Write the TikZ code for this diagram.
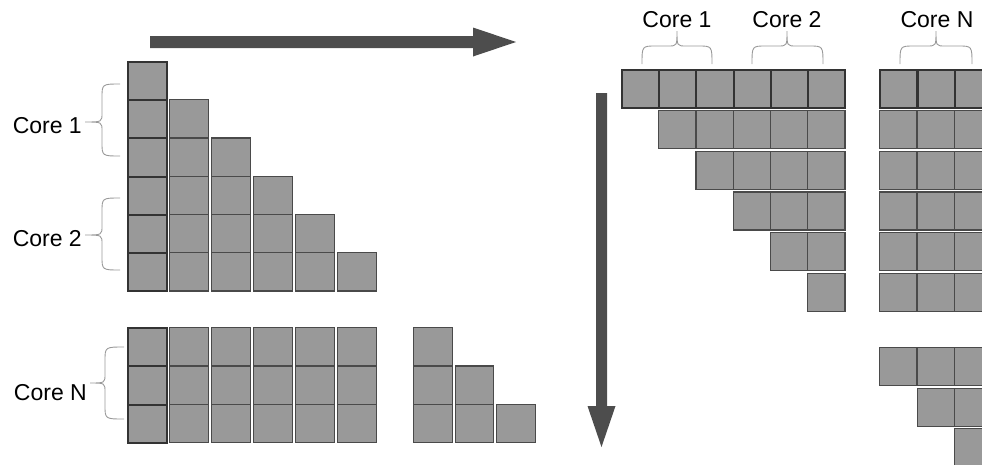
\documentclass[tikz,border=0pt]{standalone}
\usepackage{fontspec}
\setmainfont{Liberation Sans}
\definecolor{cellfill}{HTML}{999999}
\definecolor{cellline}{HTML}{4A4A4A}
\definecolor{celldark}{HTML}{333333}
\definecolor{bracec}{HTML}{999999}
\definecolor{arrowc}{HTML}{4D4D4D}
\newcommand\brL[6]{% xr, xv, xt, ytop, ytip, ybot
  \draw[brace] (#1,#4) .. controls (#2,#4) and (#2,#4) .. (#2,#4+14) -- (#2,#5-9)
    .. controls (#2,#5) and (#2,#5) .. (#3,#5) .. controls (#2,#5) and (#2,#5) .. (#2,#5+9)
    -- (#2,#6-14) .. controls (#2,#6) and (#2,#6) .. (#1,#6);}
\newcommand\brT[6]{% xl, xm, xr, ybot, yh, ytip
  \draw[brace] (#1,#4) .. controls (#1,#5) and (#1,#5) .. (#1+14,#5) -- (#2-9,#5)
    .. controls (#2,#5) and (#2,#5) .. (#2,#6) .. controls (#2,#5) and (#2,#5) .. (#2+9,#5)
    -- (#3-14,#5) .. controls (#3,#5) and (#3,#5) .. (#3,#4);}
\begin{document}
\begin{tikzpicture}[x=1pt,y=-1pt,
  cell/.style={draw=cellline, fill=cellfill, line width=1.2pt, inner sep=0pt,
    anchor=north west, minimum width=38.5pt, minimum height=38.3pt},
  cellfirst/.style={cell, draw=celldark, line width=2pt},
  rcell/.style={cell, minimum width=37.3pt, minimum height=38pt},
  rcelltop/.style={rcell, draw=celldark, line width=2pt},
  brace/.style={draw=bracec, line width=0.9pt},
  lab/.style={font=\fontsize{23}{27}\selectfont, text=black, inner sep=0pt}]
\useasboundingbox (0,0) rectangle (982,464);
\clip (0,0) rectangle (982,464);

% ---------- left triangle (Core 1, Core 2) ----------
\foreach \c in {1,...,5}{
  \foreach \r in {\c,...,5}{
    \node[cell] (L\c-\r) at ({127+42*\c},{61+38.2*\r}) {};
  }
}
\foreach \r in {0,...,5}{
  \node[cellfirst] (L0-\r) at (127,{61+38.2*\r}) {};
}

% ---------- left bottom block (Core N) ----------
\foreach \c in {1,...,5}{
  \foreach \r in {0,1,2}{
    \node[cell] (B\c-\r) at ({127+42*\c},{327+38.3*\r}) {};
  }
}
\foreach \r in {0,1,2}{
  \node[cellfirst] (B0-\r) at (127,{327+38.3*\r}) {};
}
\foreach \k in {0,1,2}{
  \foreach \r in {\k,...,2}{
    \node[cell] (T\k-\r) at ({413+41.5*\k},{327+38.3*\r}) {};
  }
}

% ---------- right upper triangle ----------
\foreach \r in {1,...,5}{
  \foreach \c in {\r,...,5}{
    \node[rcell] (R\c-\r) at ({621+37.2*\c},{69+40.8*\r}) {};
  }
}
\foreach \c in {0,...,5}{
  \node[rcelltop] (R\c-0) at ({621+37.2*\c},69) {};
}

% ---------- right Core N block ----------
\foreach \r in {1,...,5}{
  \foreach \c in {0,1,2}{
    \node[rcell] (N\c-\r) at ({879+37.5*\c},{69+40.8*\r}) {};
  }
}
\foreach \c in {0,1,2}{
  \node[rcelltop] (N\c-0) at ({879+37.5*\c},69) {};
}
\foreach \r in {0,1,2}{
  \foreach \c in {\r,...,2}{
    \node[rcell] (M\c-\r) at ({879+37.5*\c},{347+40.5*\r}) {};
  }
}

% ---------- braces and labels ----------
\brL{120}{102}{85}{84}{122}{156}
\brL{120}{102}{85}{198}{235}{270}
\brL{124}{105}{90}{347}{383}{419}
\node[lab, anchor=base east] (lc1) at (82,133) {Core 1};
\node[lab, anchor=base east] (lc2) at (82,246) {Core 2};
\node[lab, anchor=base east] (lcn) at (87,400) {Core N};

\brT{642}{677}{712}{64}{46}{31}
\brT{752}{787}{823}{64}{46}{31}
\brT{900}{936}{972}{64}{46}{31}
\node[lab, anchor=base] (tc1) at (677,27) {Core 1};
\node[lab, anchor=base] (tc2) at (787,27) {Core 2};
\node[lab, anchor=base] (tcn) at (937,27) {Core N};

% ---------- arrows ----------
\coordinate (hs1) at (150,36);
\coordinate (hs2) at (150,48);
\coordinate (ht) at (516,42);
\fill[arrowc] (hs1) -- (473,36) -- (473,27.5) -- (ht) -- (473,56.5) -- (473,48) -- (hs2) -- cycle;
\coordinate (vs1) at (596,93);
\coordinate (vs2) at (607,93);
\coordinate (vt) at (601.5,447);
\fill[arrowc] (vs1) -- (vs2) -- (607,406) -- (615.5,406) -- (vt) -- (587.5,406) -- (596,406) -- cycle;
\end{tikzpicture}
\end{document}
